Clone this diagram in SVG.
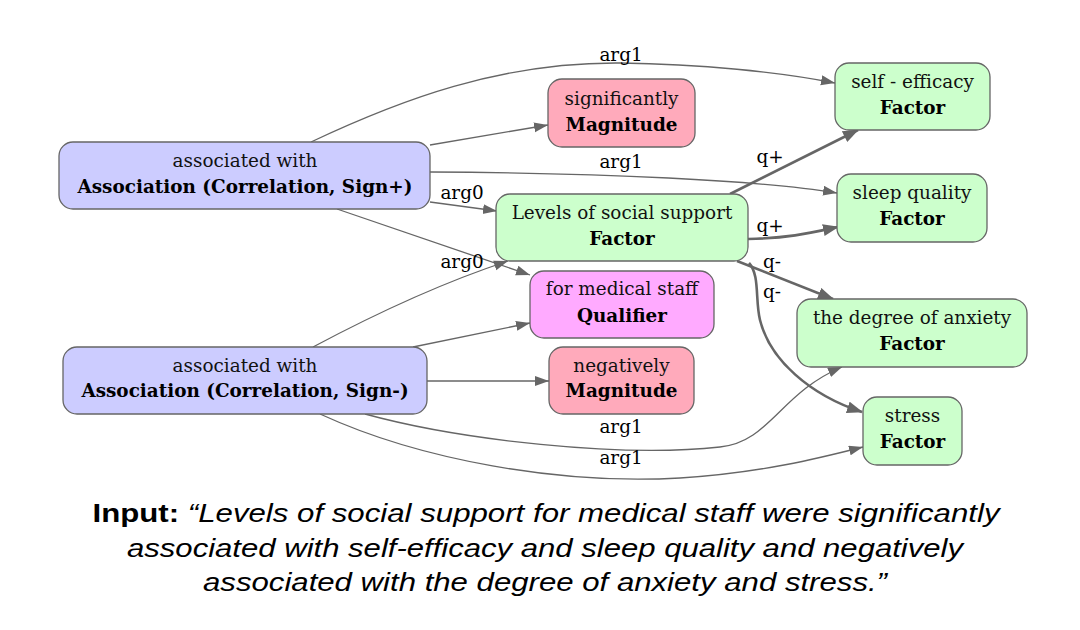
<svg xmlns="http://www.w3.org/2000/svg" width="1080" height="630" viewBox="0 0 1080 630">
<style>
.node rect{stroke:#666;stroke-width:1.3}
.assoc{fill:#ccccff}
.mag{fill:#ffaabb}
.qual{fill:#ffaaff}
.fact{fill:#ccffcc}
.t{font-family:"DejaVu Serif",serif;font-size:18.4px;fill:#111;text-anchor:middle}
.b{font-weight:bold;fill:#000}
.e{fill:none;stroke:#666;stroke-width:1.3}
.k{fill:none;stroke:#666;stroke-width:2.6}
.lbl{font-family:"DejaVu Serif",serif;font-size:18.4px;fill:#000;text-anchor:middle}
.cap{font-family:"Liberation Sans",Arial,sans-serif;font-size:26px;fill:#000;text-anchor:middle}
</style>
<defs>
<marker id="ah" markerUnits="userSpaceOnUse" markerWidth="16" markerHeight="12" refX="14" refY="5" orient="auto"><path d="M0,0 L14,5 L0,10 z" fill="#666"/></marker>
<marker id="ahk" markerUnits="userSpaceOnUse" markerWidth="18" markerHeight="14" refX="15" refY="6" orient="auto"><path d="M0,0 L16,6 L0,12 z" fill="#666"/></marker>
</defs>
<g id="connectors">
<path class="e" marker-end="url(#ah)" d="M311,142 C 400,100 500,62 620,63 C 700,64 780,72 835,83"/>
<path class="e" marker-end="url(#ah)" d="M430,145 L548,125"/>
<path class="e" marker-end="url(#ah)" d="M430,172 C 600,173 760,180 837,193"/>
<path class="e" marker-end="url(#ah)" d="M430,202 L497,211"/>
<path class="e" marker-end="url(#ah)" d="M337,209 L530,275"/>
<path class="e" marker-end="url(#ah)" d="M313,347 Q 420,290 508,261"/>
<path class="e" marker-end="url(#ah)" d="M413,347 L530,323"/>
<path class="e" marker-end="url(#ah)" d="M427,381 L549,381"/>
<path class="e" marker-end="url(#ah)" d="M365,414 C 460,440 620,458 720,447 C 770,442 780,393 842,367"/>
<path class="e" marker-end="url(#ah)" d="M320,414 C 420,460 560,485 680,478 C 760,473 820,458 863,447"/>
<path class="k" marker-end="url(#ahk)" d="M730,194 L858,130"/>
<path class="k" marker-end="url(#ahk)" d="M748,239 C 790,238 810,233 838,227"/>
<path class="k" marker-end="url(#ahk)" d="M737,261 L833,299"/>
<path class="k" marker-end="url(#ahk)" d="M749,263 C 760,275 755,300 760,320 C 770,360 810,395 862,412"/>
<text class="lbl" x="621" y="61">arg1</text>
<text class="lbl" x="621" y="168">arg1</text>
<text class="lbl" x="462" y="199">arg0</text>
<text class="lbl" x="462" y="268">arg0</text>
<text class="lbl" x="770" y="163">q+</text>
<text class="lbl" x="770" y="232">q+</text>
<text class="lbl" x="772" y="268">q-</text>
<text class="lbl" x="772" y="298">q-</text>
<text class="lbl" x="621" y="433">arg1</text>
<text class="lbl" x="621" y="464">arg1</text>
</g>
<g id="assoc-pos" class="node"><rect class="assoc" x="59" y="142" width="371" height="67" rx="14"/><text class="t" x="245" y="167">associated with</text><text class="t b" x="245" y="193">Association (Correlation, Sign+)</text></g>
<g id="assoc-neg" class="node"><rect class="assoc" x="63" y="347" width="364" height="67" rx="14"/><text class="t" x="245" y="372">associated with</text><text class="t b" x="245" y="397">Association (Correlation, Sign-)</text></g>
<g id="mag-sig" class="node"><rect class="mag" x="548" y="79" width="147" height="68" rx="14"/><text class="t" x="621.5" y="105">significantly</text><text class="t b" x="621.5" y="131">Magnitude</text></g>
<g id="levels" class="node"><rect class="fact" x="496" y="194" width="252" height="67" rx="14"/><text class="t" x="622" y="219">Levels of social support</text><text class="t b" x="622" y="245">Factor</text></g>
<g id="qualifier" class="node"><rect class="qual" x="530" y="271" width="184" height="67" rx="14"/><text class="t" x="622" y="295">for medical staff</text><text class="t b" x="622" y="322">Qualifier</text></g>
<g id="mag-neg" class="node"><rect class="mag" x="549" y="347" width="145" height="67" rx="14"/><text class="t" x="621.5" y="372">negatively</text><text class="t b" x="621.5" y="397">Magnitude</text></g>
<g id="self-efficacy" class="node"><rect class="fact" x="835" y="63" width="155" height="67" rx="14"/><text class="t" x="912.5" y="88">self - efficacy</text><text class="t b" x="912.5" y="114">Factor</text></g>
<g id="sleep" class="node"><rect class="fact" x="837" y="174" width="150" height="68" rx="14"/><text class="t" x="912" y="199">sleep quality</text><text class="t b" x="912" y="225">Factor</text></g>
<g id="anxiety" class="node"><rect class="fact" x="797" y="299" width="230" height="68" rx="14"/><text class="t" x="912" y="324">the degree of anxiety</text><text class="t b" x="912" y="350">Factor</text></g>
<g id="stress" class="node"><rect class="fact" x="863" y="397" width="99" height="68" rx="14"/><text class="t" x="912.5" y="422">stress</text><text class="t b" x="912.5" y="448">Factor</text></g>
<g id="caption">
<text class="cap" x="546" y="522" textLength="907" lengthAdjust="spacingAndGlyphs"><tspan font-weight="bold">Input:</tspan><tspan font-style="italic"> “Levels of social support for medical staff were significantly</tspan></text>
<text class="cap" x="545" y="557" textLength="836" lengthAdjust="spacingAndGlyphs" font-style="italic">associated with self-efficacy and sleep quality and negatively</text>
<text class="cap" x="545" y="591" textLength="684" lengthAdjust="spacingAndGlyphs" font-style="italic">associated with the degree of anxiety and stress.”</text>
</g>
</svg>
